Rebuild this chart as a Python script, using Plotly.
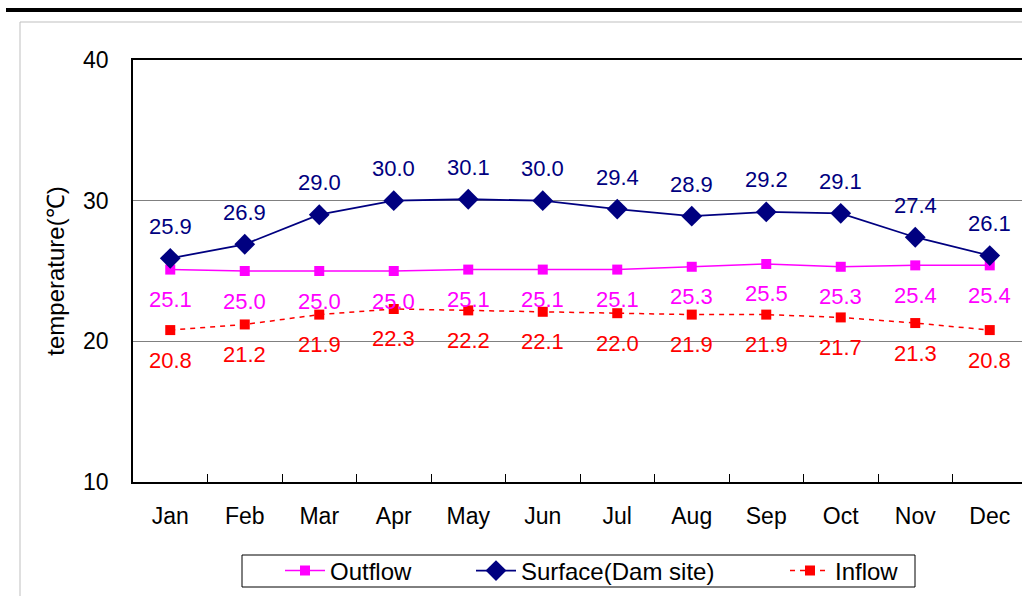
import plotly.graph_objects as go

# Monthly water temperature (°C)
months = ["Jan", "Feb", "Mar", "Apr", "May", "Jun",
          "Jul", "Aug", "Sep", "Oct", "Nov", "Dec"]
outflow = [25.1, 25.0, 25.0, 25.0, 25.1, 25.1, 25.1, 25.3, 25.5, 25.3, 25.4, 25.4]
surface = [25.9, 26.9, 29.0, 30.0, 30.1, 30.0, 29.4, 28.9, 29.2, 29.1, 27.4, 26.1]
inflow = [20.8, 21.2, 21.9, 22.3, 22.2, 22.1, 22.0, 21.9, 21.9, 21.7, 21.3, 20.8]

W, H = 1022, 596
ML, MR, MT, MB = 133, 0, 60, 114
PW, PH = W - ML - MR, H - MT - MB
CAT_W = 74.5  # pixel width of one month slot

FONT = "Liberation Sans, Arial, sans-serif"
C_OUT, C_SUR, C_IN = "#FF00FF", "#000080", "#FF0000"


def px_x(px):
    return (px - ML) / PW


def px_y(py):
    return (H - MB - py) / PH


fig = go.Figure()
fig.add_trace(go.Scatter(
    x=months, y=outflow, name="Outflow", mode="lines+markers", legend="legend",
    line=dict(color=C_OUT, width=1.5),
    marker=dict(symbol="square", size=10, color=C_OUT)))
fig.add_trace(go.Scatter(
    x=months, y=surface, name="Surface(Dam site)", mode="lines+markers", legend="legend2",
    line=dict(color=C_SUR, width=1.8),
    marker=dict(symbol="diamond", size=16, color=C_SUR)))
fig.add_trace(go.Scatter(
    x=months, y=inflow, name="Inflow", mode="lines+markers", legend="legend3",
    line=dict(color=C_IN, width=1.5, dash="5px,5px"),
    marker=dict(symbol="square", size=10, color=C_IN)))

# value labels
annotations = []
for series, color, shift in ((surface, C_SUR, 32), (outflow, C_OUT, -30), (inflow, C_IN, -30)):
    for m, v in zip(months, series):
        annotations.append(dict(
            x=m, y=v, text=f"{v:.1f}", showarrow=False, yshift=shift,
            font=dict(family=FONT, size=22, color=color)))

shapes = [
    # heavy rule across the top
    dict(type="line", xref="paper", yref="paper",
         x0=px_x(6), x1=1.0, y0=px_y(10), y1=px_y(10),
         line=dict(color="black", width=4)),
    # chart-area frame
    dict(type="line", xref="paper", yref="paper",
         x0=px_x(20), x1=1.0, y0=px_y(22), y1=px_y(22),
         line=dict(color="#BFBFBF", width=1)),
    dict(type="line", xref="paper", yref="paper",
         x0=px_x(20), x1=px_x(20), y0=px_y(22), y1=px_y(600),
         line=dict(color="#BFBFBF", width=1)),
    # legend frame
    dict(type="rect", xref="paper", yref="paper",
         x0=px_x(242), x1=px_x(915), y0=px_y(555), y1=px_y(587),
         line=dict(color="black", width=1), fillcolor="rgba(0,0,0,0)"),
]

legend_font = dict(family=FONT, size=24, color="black")
legend_y = px_y(571)


def legend_at(px):
    return dict(orientation="h", x=px_x(px), y=legend_y,
                xanchor="left", yanchor="middle",
                bgcolor="rgba(0,0,0,0)", borderwidth=0,
                font=legend_font, itemwidth=40)


fig.update_layout(
    width=W, height=H,
    margin=dict(l=ML, r=MR, t=MT, b=MB),
    paper_bgcolor="white", plot_bgcolor="white",
    font=dict(family=FONT, size=20, color="black"),
    showlegend=True,
    legend=legend_at(280),
    legend2=legend_at(471),
    legend3=legend_at(785),
    annotations=annotations,
    shapes=shapes,
)

fig.update_xaxes(
    type="category", range=[-0.5, -0.5 + PW / CAT_W],
    showline=True, linecolor="black", linewidth=1.5, mirror=True,
    ticks="inside", tickson="boundaries", ticklen=8, tickcolor="black", tickwidth=1,
    showgrid=False, ticklabelstandoff=13,
    tickfont=dict(family=FONT, size=23, color="black"),
)
fig.update_yaxes(
    range=[10, 40], dtick=10,
    showline=True, linecolor="black", linewidth=1.5,
    showgrid=True, gridcolor="#808080", gridwidth=1,
    ticks="", ticklabelstandoff=18, zeroline=False,
    tickfont=dict(family=FONT, size=23, color="black"),
    title=dict(text="temperature(℃)", standoff=12,
               font=dict(family=FONT, size=24, color="black")),
)

fig.write_html("out.html")
